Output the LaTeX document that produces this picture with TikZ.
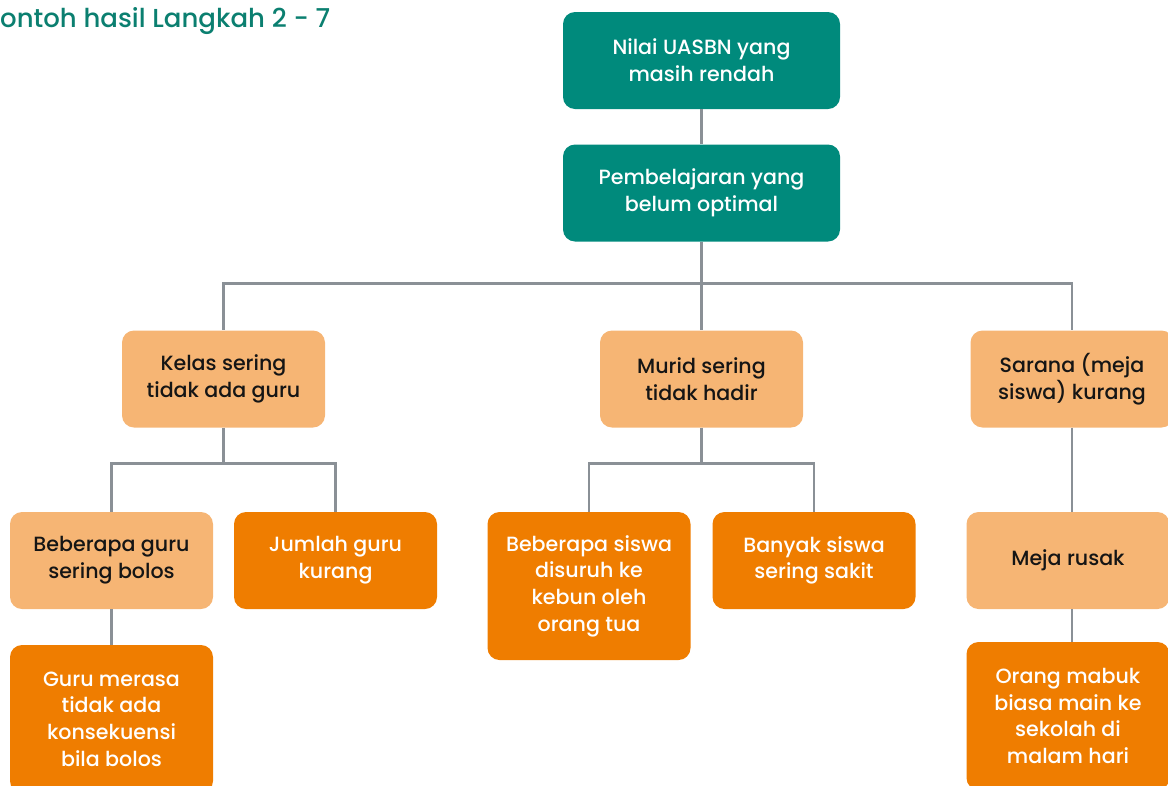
\documentclass[tikz,border=0pt]{standalone}
\usepackage{fontspec}
\setmainfont{Poppins Medium}
\usetikzlibrary{positioning}
\definecolor{teal1}{HTML}{008A7C}
\definecolor{titlec}{HTML}{0B7F70}
\definecolor{lightor}{HTML}{F6B574}
\definecolor{darkor}{HTML}{EF7D00}
\definecolor{linec}{HTML}{8A9096}
\definecolor{txt}{HTML}{151515}
\tikzset{
  box/.style={rounded corners=12pt, minimum width=203pt, align=center, inner sep=0pt,
    font=\fontsize{20.6}{26.7}\selectfont},
  tealbox/.style={box, fill=teal1, text=white, minimum width=277pt, minimum height=97pt},
  lightbox/.style={box, fill=lightor, text=txt, minimum height=97pt},
  darkbox/.style={box, fill=darkor, text=white, minimum height=97pt},
  tall/.style={minimum height=148pt},
  conn/.style={draw=linec, line width=2.6pt}
}
\begin{document}
\begin{tikzpicture}[x=1pt,y=-1pt]
\useasboundingbox (0,0) rectangle (1168,785);
\node[anchor=base west, text=titlec, font=\fontsize{26}{30}\selectfont, inner sep=0pt] (title) at (0,27) {ontoh hasil Langkah 2 - 7};

\node[tealbox] (top1) at (701.5,60.5) {Nilai UASBN yang\\masih rendah};
\node[tealbox] (top2) at (701.5,193) {Pembelajaran yang\\belum optimal};

\node[lightbox] (kelas) at (223.5,379) {Kelas sering\\tidak ada guru};
\node[lightbox] (murid) at (701.5,379) {Murid sering\\tidak hadir};
\node[lightbox] (sarana) at (1072,379) {Sarana (meja\\siswa) kurang};

\node[lightbox] (bguru) at (111.5,560.5) {Beberapa guru\\sering bolos};
\node[darkbox] (jguru) at (335.5,560.5) {Jumlah guru\\kurang};
\node[darkbox, tall] (bsiswa) at (589,586) {Beberapa siswa\\disuruh ke\\kebun oleh\\orang tua};
\node[darkbox] (bsakit) at (814,560.5) {Banyak siswa\\sering sakit};
\node[lightbox] (meja) at (1068,560.5) {Meja rusak};

\node[darkbox, tall] (gmerasa) at (111.5,719) {Guru merasa\\tidak ada\\konsekuensi\\bila bolos};
\node[darkbox, tall] (omabuk) at (1068,716) {Orang mabuk\\biasa main ke\\sekolah di\\malam hari};

\draw[conn] (top1) -- (top2);
\draw[conn] (top2.south) -- ++(0,42) coordinate (j1);
\draw[conn] (j1) -| (kelas.north);
\draw[conn] (j1) -| (sarana.north);
\draw[conn] (j1) -- (murid.north);

\draw[conn] (kelas.south) -- ++(0,36) coordinate (j2);
\draw[conn] (j2) -| (bguru.north);
\draw[conn] (j2) -| (jguru.north);

\draw[conn] (murid.south) -- ++(0,36) coordinate (j3);
\draw[conn] (j3) -| (bsiswa.north);
\draw[conn] (j3) -| (bsakit.north);

\draw[conn] (sarana.south) -- (sarana.south |- meja.north);
\draw[conn] (bguru.south) -- (gmerasa.north);
\draw[conn] (meja.south -| sarana.south) -- (omabuk.north -| sarana.south);
\end{tikzpicture}
\end{document}
